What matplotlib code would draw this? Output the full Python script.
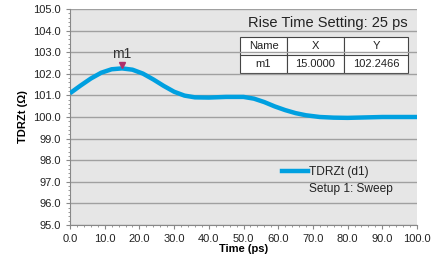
import matplotlib.pyplot as plt
from matplotlib.ticker import MultipleLocator

plt.rcParams['font.family'] = ['Liberation Sans', 'DejaVu Sans']

# TDR impedance trace
time_ps = [0, 3, 6, 9, 12, 15, 18, 21, 24, 27, 30, 33, 36, 40, 45, 50, 53, 56, 59, 62, 65, 68, 72, 76, 80, 85, 90, 95, 100]
tdrzt = [101.10, 101.45, 101.78, 102.05, 102.21, 102.25, 102.19, 102.01, 101.74, 101.44, 101.17, 100.99, 100.91, 100.90, 100.93, 100.93, 100.85, 100.69, 100.49, 100.32, 100.18, 100.08, 100.00, 99.97, 99.96, 99.98, 100.0, 100.0, 100.0]

marker_x = 15.0
marker_y = 102.2466
table_cols = ['Name', 'X', 'Y']
table_row = ['m1', '15.0000', '102.2466']

fig = plt.figure(figsize=(4.38, 2.6), dpi=100)
ax = fig.add_axes([70 / 438, 35 / 260, 347 / 438, 216 / 260])
ax.set_facecolor('#e6e6e6')

ax.plot(time_ps, tdrzt, color='#00a0e0', lw=3.2, solid_capstyle='butt', zorder=3)
ax.plot([marker_x], [marker_y + 0.17], marker='v', color='#b0306a', ms=4, zorder=4)
ax.text(marker_x, marker_y + 0.35, 'm1', ha='center', va='bottom', fontsize=10, color='#333333')

ax.set_xlim(0, 100)
ax.set_ylim(95, 105)
ax.xaxis.set_major_locator(MultipleLocator(10))
ax.xaxis.set_minor_locator(MultipleLocator(2))
ax.yaxis.set_major_locator(MultipleLocator(1))
ax.yaxis.set_minor_locator(MultipleLocator(0.2))
ax.xaxis.set_major_formatter(lambda v, p: f'{v:.1f}')
ax.yaxis.set_major_formatter(lambda v, p: f'{v:.1f}')
ax.tick_params(labelsize=8, colors='#222222', length=3, width=0.8)
ax.tick_params(which='minor', length=1.5, width=0.6, color='#888888')
ax.tick_params(axis='both', which='major', color='#888888')
ax.grid(axis='y', which='major', color='#a0a0a0', lw=1)
for s in ['top', 'right']:
    ax.spines[s].set_visible(False)
for s in ['left', 'bottom']:
    ax.spines[s].set_color('#888888')

ax.set_xlabel('Time (ps)', fontsize=8, fontweight='bold', labelpad=0)
ax.set_ylabel('TDRZt (Ω)', fontsize=8, fontweight='bold', labelpad=4)

fig.text(408 / 438, 1 - 23 / 260, 'Rise Time Setting: 25 ps', ha='right', va='center', fontsize=10.5, color='#222222')

tbl = ax.table(cellText=[table_row], colLabels=table_cols,
               bbox=[(240 - 70) / 347, (225 - 73) / 216, 168 / 347, 36 / 216],
               cellLoc='center', colWidths=[47, 57, 64])
tbl.auto_set_font_size(False)
tbl.set_fontsize(8)
for c in tbl.get_celld().values():
    c.set_facecolor('white')
    c.set_edgecolor('#444444')
    c.set_linewidth(0.8)
    c.get_text().set_color('#222222')

handles = [plt.Line2D([], [], color='#00a0e0', lw=3.2), plt.Line2D([], [], lw=0)]
leg = ax.legend(handles, ['TDRZt (d1)', 'Setup 1: Sweep'],
                loc='upper left', bbox_to_anchor=((282 - 70) / 347, (225 - 166) / 216),
                frameon=False, fontsize=8.6, handlelength=2.2, handletextpad=0.1, borderpad=0,
                borderaxespad=0, labelspacing=0.45)
for t in leg.get_texts():
    t.set_color('#222222')

fig.savefig('out.png', dpi=100)
